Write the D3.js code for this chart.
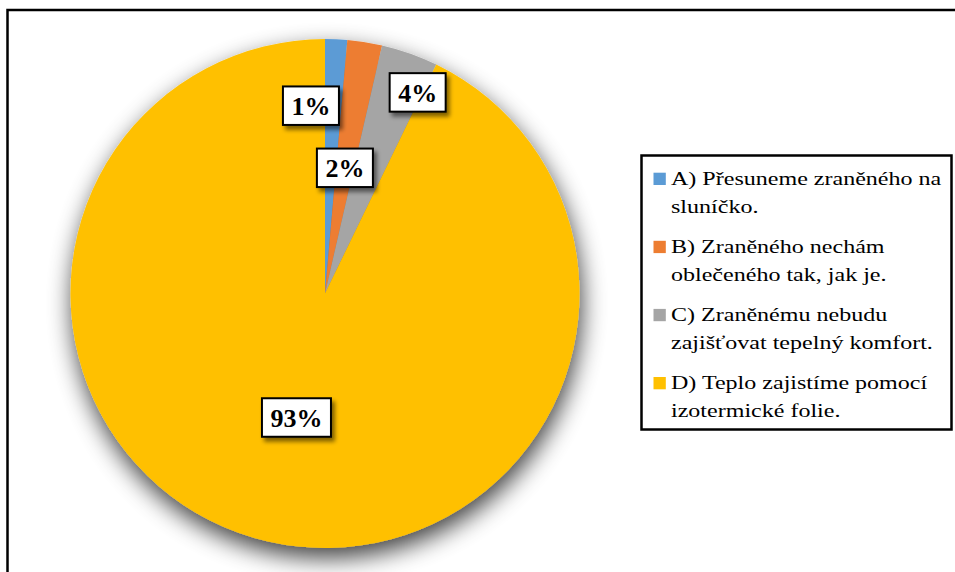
<!DOCTYPE html>
<html>
<head>
<meta charset="utf-8">
<script src="https://cdn.jsdelivr.net/npm/d3@7"></script>
<style>
  html, body { margin: 0; padding: 0; background: #fff; }
  svg { display: block; }
</style>
</head>
<body>
<svg id="chart" width="955" height="572"></svg>
<script>
// Answer categories and share of respondents (%)
const categories = [
  "A) Přesuneme zraněného na sluníčko.",
  "B) Zraněného nechám oblečeného tak, jak je.",
  "C) Zraněnému nebudu zajišťovat tepelný komfort.",
  "D) Teplo zajistíme pomocí izotermické folie."
];
// Legend text broken into the two lines shown for each entry
const legendLines = [
  ["A) Přesuneme zraněného na", "sluníčko."],
  ["B) Zraněného nechám", "oblečeného tak, jak je."],
  ["C) Zraněnému nebudu", "zajišťovat tepelný komfort."],
  ["D) Teplo zajistíme pomocí", "izotermické folie."]
];
const values = [1.4, 2.2, 3.6, 92.8];
const colors = ["#5B9BD5", "#ED7D31", "#A5A5A5", "#FFC000"];

const SERIF = '"Liberation Serif", "Times New Roman", serif';
const svg = d3.select("#chart");
const W = 955, H = 572;

// Filters: soft shadow under the pie, small drop shadow under label boxes
const defs = svg.append("defs");
const pieShadow = defs.append("filter").attr("id", "pieShadow")
  .attr("x", "-30%").attr("y", "-30%").attr("width", "160%").attr("height", "160%");
pieShadow.append("feGaussianBlur").attr("in", "SourceAlpha").attr("stdDeviation", 12).attr("result", "b");
pieShadow.append("feOffset").attr("in", "b").attr("dx", 2).attr("dy", 10).attr("result", "o");
pieShadow.append("feComponentTransfer").attr("in", "o").attr("result", "s")
  .append("feFuncA").attr("type", "linear").attr("slope", 0.75);
const m1 = pieShadow.append("feMerge");
m1.append("feMergeNode").attr("in", "s");
m1.append("feMergeNode").attr("in", "SourceGraphic");

const boxShadow = defs.append("filter").attr("id", "boxShadow")
  .attr("x", "-30%").attr("y", "-30%").attr("width", "160%").attr("height", "160%");
boxShadow.append("feGaussianBlur").attr("in", "SourceAlpha").attr("stdDeviation", 2).attr("result", "b");
boxShadow.append("feOffset").attr("in", "b").attr("dx", 3).attr("dy", 4).attr("result", "o");
boxShadow.append("feComponentTransfer").attr("in", "o").attr("result", "s")
  .append("feFuncA").attr("type", "linear").attr("slope", 0.5);
const m2 = boxShadow.append("feMerge");
m2.append("feMergeNode").attr("in", "s");
m2.append("feMergeNode").attr("in", "SourceGraphic");

// Outer frame (continues past the right and bottom edges)
svg.append("path")
  .attr("d", `M${W + 5},10 H7.5 V${H + 5}`)
  .attr("fill", "none").attr("stroke", "#000").attr("stroke-width", 2.5);

// Pie
const cx = 325, cy = 293.5, R = 254.5;
const pie = d3.pie().sort(null).value(d => d)(values);
const arc = d3.arc().innerRadius(0).outerRadius(R);

const g = svg.append("g").attr("transform", `translate(${cx},${cy})`);
const slices = g.append("g").attr("filter", "url(#pieShadow)");
slices.selectAll("path").data(pie).join("path")
  .attr("d", arc)
  .attr("fill", (d, i) => colors[i]);

// Data labels: centroid by default, the two thin outer slices moved aside
const labelPlacement = [
  { shift: -6.8, rf: 0.74 },
  { shift: 0, rf: 0.5 },
  { shift: 5.3, rf: 0.87 },
  { shift: 0, rf: 0.5 }
];
const fmt = v => Math.round(v) + "%";
const labelBoxes = [];
const labels = g.append("g");
pie.forEach((d, i) => {
  const p = labelPlacement[i];
  const a = (d.startAngle + d.endAngle) / 2 + p.shift * Math.PI / 180;
  const r = R * p.rf;
  const x = Math.sin(a) * r, y = -Math.cos(a) * r;
  const lg = labels.append("g").attr("transform", `translate(${x},${y})`);
  const rect = lg.append("rect").attr("fill", "#fff").attr("stroke", "#000")
    .attr("stroke-width", 2).attr("filter", "url(#boxShadow)");
  const t = lg.append("text")
    .style("font-family", SERIF).style("font-weight", "bold").style("font-size", "26px")
    .attr("text-anchor", "middle").attr("dy", 9.5)
    .attr("fill", "#000")
    .text(fmt(d.data));
  labelBoxes.push({ rect, t });
});
function sizeBoxes() {
  labelBoxes.forEach(({ rect, t }) => {
    const w = t.node().getComputedTextLength() + 17, h = 38.5;
    rect.attr("x", -w / 2).attr("y", -h / 2).attr("width", w).attr("height", h);
  });
}
sizeBoxes();
if (document.fonts && document.fonts.ready) document.fonts.ready.then(sizeBoxes);

// Legend
const lgX = 641.5, lgY = 155.5, lgW = 310, lgH = 274;
svg.append("rect")
  .attr("x", lgX).attr("y", lgY).attr("width", lgW).attr("height", lgH)
  .attr("fill", "#fff").attr("stroke", "#000").attr("stroke-width", 2.5);

const legend = svg.append("g");
const firstBase = 185, entryStep = 68.1, lineStep = 27.6;
const textX = 671, stretchX = 1.3;
legendLines.forEach((lines, i) => {
  const base = firstBase + i * entryStep;
  legend.append("rect")
    .attr("x", 653.5).attr("y", base - 12.3).attr("width", 12.3).attr("height", 12.3)
    .attr("fill", colors[i]);
  // legend text is drawn horizontally widened, as in the source layout
  const t = legend.append("text")
    .attr("transform", `translate(${textX},0) scale(${stretchX},1)`)
    .style("font-family", SERIF).style("font-size", "18.5px")
    .attr("fill", "#000");
  lines.forEach((ln, j) => {
    t.append("tspan").attr("x", 0).attr("y", base + j * lineStep).text(ln);
  });
  t.append("title").text(categories[i]);
});
</script>
</body>
</html>
